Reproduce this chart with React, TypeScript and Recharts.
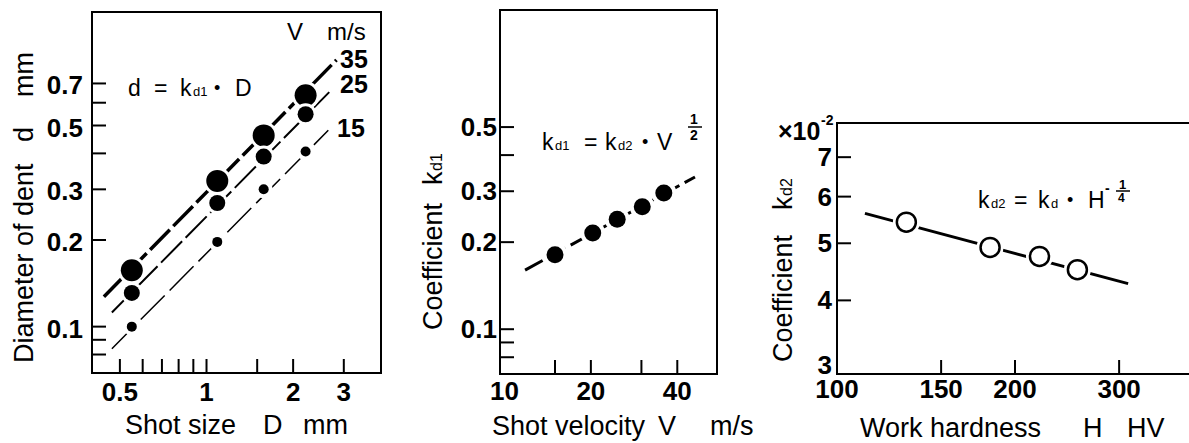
import React from 'react';
import { ComposedChart, XAxis, YAxis, Line, Scatter, ReferenceArea } from 'recharts';

const FONT = '"Liberation Sans", Arial, Helvetica, sans-serif';

// ---------- Panel 1: dent diameter vs shot size ----------
const shotSize = [0.55, 1.09, 1.58, 2.21];
const dent35 = [0.157, 0.321, 0.462, 0.637];
const dent25 = [0.131, 0.269, 0.39, 0.547];
const dent15 = [0.1, 0.197, 0.3, 0.406];
const fitShot35 = [0.44, 2.83];
const fitDent35 = [0.127, 0.845];
const fitShot25 = [0.469, 2.67];
const fitDent25 = [0.112, 0.653];
const fitShot15 = [0.469, 2.65];
const fitDent15 = [0.0838, 0.481];
const shotTicks = [0.5, 0.6, 0.7, 0.8, 0.9, 1, 1.5, 2, 3];
const shotTickLabels = ['0.5', '', '', '', '', '1', '', '2', '3'];
const dentTicks = [0.08, 0.09, 0.1, 0.2, 0.3, 0.4, 0.5, 0.6, 0.7];
const dentTickLabels = ['', '', '0.1', '0.2', '0.3', '', '0.5', '', '0.7'];

// ---------- Panel 2: kd1 vs shot velocity ----------
const velocity = [15, 20.3, 24.7, 30.2, 35.9];
const kd1 = [0.181, 0.215, 0.24, 0.265, 0.296];
const fitVelocity = [11.8, 46.1];
const fitKd1 = [0.16, 0.336];
const velocityTicks = [10, 15, 20, 30, 40];
const velocityTickLabels = ['10', '', '20', '', '40'];
const kd1Ticks = [0.08, 0.09, 0.1, 0.2, 0.3, 0.4, 0.5];
const kd1TickLabels = ['', '', '0.1', '0.2', '0.3', '', '0.5'];

// ---------- Panel 3: kd2 vs work hardness (x10^-2) ----------
const hardness = [131, 181.5, 220, 255];
const kd2 = [5.43, 4.92, 4.75, 4.51];
const fitHardness = [111.5, 310.7];
const fitKd2 = [5.62, 4.27];
const hardnessTicks = [100, 150, 200, 300];
const hardnessTickLabels = ['100', '150', '200', '300'];
const kd2Ticks = [3, 4, 5, 6, 7];
const kd2TickLabels = ['3', '4', '5', '6', '7'];

type Pt = { x: number; y: number };
const zip = (xs: number[], ys: number[]): Pt[] => xs.map((x, i) => ({ x, y: ys[i] }));

const TICK_LEN = 14;
const TICK_FONT = 26;

const makeXTick = (ticks: number[], labels: string[], noMark: number[], labelDy: number) => (props: any) => {
  const { x, y, payload } = props;
  const i = ticks.indexOf(payload.value);
  const mark = noMark.indexOf(payload.value) < 0;
  return (
    <g>
      {mark && <line x1={x} x2={x} y1={y} y2={y - TICK_LEN} stroke="#000" strokeWidth={2} />}
      <text x={x} y={y + labelDy} textAnchor="middle" fontSize={TICK_FONT} fontWeight="bold" fontFamily={FONT} fill="#000">
        {labels[i]}
      </text>
    </g>
  );
};

const makeYTick = (ticks: number[], labels: string[], domainMin: number, gap: number, off: number) => (props: any) => {
  const { x, y, payload } = props;
  const i = ticks.indexOf(payload.value);
  const atMin = payload.value === domainMin;
  return (
    <g>
      {!atMin && <line x1={x} x2={x + TICK_LEN} y1={y} y2={y} stroke="#000" strokeWidth={2} />}
      <text x={x - gap} y={y + 9 + off + (atMin ? -9 : 0)} textAnchor="end" fontSize={TICK_FONT} fontWeight="bold" fontFamily={FONT} fill="#000">
        {labels[i]}
      </text>
    </g>
  );
};

const filledDot = (r: number, halo: number) => (p: any) => (
  <g>
    <circle cx={p.cx} cy={p.cy} r={r + halo} fill="#fff" />
    <circle cx={p.cx} cy={p.cy} r={r} fill="#000" />
  </g>
);

const hollowDot = (r: number, halo: number) => (p: any) => (
  <g>
    <circle cx={p.cx} cy={p.cy} r={r + halo} fill="#fff" />
    <circle cx={p.cx} cy={p.cy} r={r} fill="#fff" stroke="#000" strokeWidth={2.5} />
  </g>
);

type LineSpec = { data: Pt[]; width: number; dash?: string };
type DotSpec = { data: Pt[]; shape: (p: any) => React.ReactElement };

interface PanelProps {
  left: number;
  width: number;
  top: number;
  right: number;
  yAxisWidth: number;
  xAxisHeight: number;
  xDomain: [number, number];
  yDomain: [number, number];
  xTicks: number[];
  xLabels: string[];
  xNoMark: number[];
  yTicks: number[];
  yLabels: string[];
  xLabelDy: number;
  yGap: number;
  yOff: number;
  lines: LineSpec[];
  dots: DotSpec[];
}

function Panel(p: PanelProps) {
  return (
    <div style={{ position: 'absolute', left: p.left, top: 0, width: p.width, height: 443 }}>
      <ComposedChart width={p.width} height={443} margin={{ top: p.top, right: p.right, bottom: 0, left: 0 }}>
        <XAxis
          type="number"
          dataKey="x"
          scale="log"
          domain={p.xDomain}
          allowDataOverflow
          ticks={p.xTicks}
          interval={0}
          height={p.xAxisHeight}
          axisLine={false}
          tickLine={false}
          tickSize={0}
          tickMargin={0}
          tick={makeXTick(p.xTicks, p.xLabels, p.xNoMark, p.xLabelDy)}
        />
        <YAxis
          type="number"
          dataKey="y"
          scale="log"
          domain={p.yDomain}
          allowDataOverflow
          ticks={p.yTicks}
          interval={0}
          width={p.yAxisWidth}
          axisLine={false}
          tickLine={false}
          tickSize={0}
          tickMargin={0}
          tick={makeYTick(p.yTicks, p.yLabels, p.yDomain[0], p.yGap, p.yOff)}
        />
        <ReferenceArea
          x1={p.xDomain[0]}
          x2={p.xDomain[1]}
          y1={p.yDomain[0]}
          y2={p.yDomain[1]}
          fill="none"
          fillOpacity={0}
          stroke="#000"
          strokeWidth={2}
          ifOverflow="visible"
        />
        {p.lines.map((l, i) => (
          <Line
            key={'l' + i}
            data={l.data}
            dataKey="y"
            type="linear"
            stroke="#000"
            strokeWidth={l.width}
            strokeDasharray={l.dash}
            dot={false}
            activeDot={false}
            isAnimationActive={false}
          />
        ))}
        {p.dots.map((d, i) => (
          <Scatter key={'s' + i} data={d.data} dataKey="y" shape={d.shape} isAnimationActive={false} />
        ))}
      </ComposedChart>
    </div>
  );
}

const T = (props: any) => <text fontFamily={FONT} fill="#000" {...props} />;

function Annotations() {
  return (
    <svg width={1189} height={443} style={{ position: 'absolute', left: 0, top: 0, pointerEvents: 'none' }}>
      {/* Panel 1 */}
      <T x={287} y={40} fontSize={24}>V</T>
      <T x={327} y={40} fontSize={24}>m/s</T>
      <T x={340} y={68} fontSize={25} fontWeight="bold">35</T>
      <T x={340} y={93} fontSize={25} fontWeight="bold">25</T>
      <T x={337} y={137} fontSize={25} fontWeight="bold">15</T>
      <T x={128} y={96} fontSize={23}>d</T>
      <T x={154} y={96} fontSize={23}>=</T>
      <T x={180} y={96} fontSize={23}>k</T>
      <T x={193} y={96} fontSize={13}>d1</T>
      <T x={214} y={94} fontSize={18}>•</T>
      <T x={235} y={96} fontSize={23}>D</T>
      <T x={125} y={434} fontSize={27}>Shot size</T>
      <T x={263} y={434} fontSize={27}>D</T>
      <T x={303} y={434} fontSize={27}>mm</T>
      <T transform="translate(33,363) rotate(-90)" fontSize={27}>Diameter of dent</T>
      <T transform="translate(33,142) rotate(-90)" fontSize={27}>d</T>
      <T transform="translate(33,97) rotate(-90)" fontSize={27}>mm</T>

      {/* Panel 2 */}
      <T x={542} y={150} fontSize={23}>k</T>
      <T x={555} y={150} fontSize={13}>d1</T>
      <T x={584} y={150} fontSize={23}>=</T>
      <T x={605} y={150} fontSize={23}>k</T>
      <T x={618} y={150} fontSize={13}>d2</T>
      <T x={642} y={148} fontSize={18}>•</T>
      <T x={657} y={150} fontSize={23}>V</T>
      <T x={690} y={124} fontSize={14} fontWeight="bold">1</T>
      <line x1={688} x2={702} y1={127} y2={127} stroke="#000" strokeWidth={1.5} />
      <T x={690} y={140} fontSize={14} fontWeight="bold">2</T>
      <T x={492} y={435} fontSize={27}>Shot velocity</T>
      <T x={658} y={435} fontSize={27}>V</T>
      <T x={710} y={435} fontSize={27}>m/s</T>
      <T transform="translate(442,330) rotate(-90)" fontSize={27}>Coefficient</T>
      <T transform="translate(442,185) rotate(-90)" fontSize={27}>k</T>
      <T transform="translate(442,171) rotate(-90)" fontSize={16}>d1</T>

      {/* Panel 3 */}
      <T x={778} y={140} fontSize={25} fontWeight="bold">×10</T>
      <T x={821} y={125} fontSize={14} fontWeight="bold">-2</T>
      <T x={978} y={208} fontSize={23}>k</T>
      <T x={991} y={208} fontSize={13}>d2</T>
      <T x={1014} y={208} fontSize={23}>=</T>
      <T x={1038} y={208} fontSize={23}>k</T>
      <T x={1051} y={208} fontSize={13}>d</T>
      <T x={1067} y={206} fontSize={18}>•</T>
      <T x={1088} y={208} fontSize={23}>H</T>
      <T x={1105} y={193} fontSize={14} fontWeight="bold">-</T>
      <T x={1119} y={189} fontSize={13} fontWeight="bold">1</T>
      <line x1={1116} x2={1130} y1={191} y2={191} stroke="#000" strokeWidth={1.5} />
      <T x={1118} y={202} fontSize={12} fontWeight="bold">4</T>
      <T x={860} y={437} fontSize={27}>Work hardness</T>
      <T x={1083} y={437} fontSize={27}>H</T>
      <T x={1127} y={437} fontSize={27}>HV</T>
      <T transform="translate(792,362) rotate(-90)" fontSize={27}>Coefficient</T>
      <T transform="translate(792,210) rotate(-90)" fontSize={27}>k</T>
      <T transform="translate(792,196) rotate(-90)" fontSize={16}>d2</T>
    </svg>
  );
}

export default function App() {
  return (
    <div
      style={{
        position: 'absolute',
        left: 0,
        top: 0,
        width: 1189,
        height: 443,
        overflow: 'hidden',
        background: '#fff',
        fontFamily: FONT,
      }}
    >
      <Panel
        left={0}
        width={400}
        top={12}
        right={19}
        yAxisWidth={92}
        xAxisHeight={70}
        xDomain={[0.4, 4.04]}
        yDomain={[0.069, 1.24]}
        xTicks={shotTicks}
        xLabels={shotTickLabels}
        xNoMark={[]}
        yTicks={dentTicks}
        yLabels={dentTickLabels}
        xLabelDy={28}
        yGap={9}
        yOff={2}
        lines={[
          { data: zip(fitShot35, fitDent35), width: 3.5, dash: '28 5' },
          { data: zip(fitShot25, fitDent25), width: 2, dash: '30 5' },
          { data: zip(fitShot15, fitDent15), width: 1.5, dash: '34 7' },
        ]}
        dots={[
          { data: zip(shotSize, dent35), shape: filledDot(11, 3) },
          { data: zip(shotSize, dent25), shape: filledDot(8, 3) },
          { data: zip(shotSize, dent15), shape: filledDot(5, 4) },
        ]}
      />
      <Panel
        left={400}
        width={350}
        top={10}
        right={33}
        yAxisWidth={100}
        xAxisHeight={69}
        xDomain={[9.65, 55]}
        yDomain={[0.07, 1.27]}
        xTicks={velocityTicks}
        xLabels={velocityTickLabels}
        xNoMark={[10]}
        yTicks={kd1Ticks}
        yLabels={kd1TickLabels}
        xLabelDy={26}
        yGap={3}
        yOff={0}
        lines={[{ data: zip(fitVelocity, fitKd1), width: 3, dash: '20 6' }]}
        dots={[{ data: zip(velocity, kd1), shape: filledDot(8.5, 4) }]}
      />
      <Panel
        left={750}
        width={450}
        top={123}
        right={7}
        yAxisWidth={87}
        xAxisHeight={69}
        xDomain={[100, 400]}
        yDomain={[3, 8]}
        xTicks={hardnessTicks}
        xLabels={hardnessTickLabels}
        xNoMark={[100]}
        yTicks={kd2Ticks}
        yLabels={kd2TickLabels}
        xLabelDy={24}
        yGap={5}
        yOff={0}
        lines={[{ data: zip(fitHardness, fitKd2), width: 3 }]}
        dots={[{ data: zip(hardness, kd2), shape: hollowDot(9.5, 4) }]}
      />
      <Annotations />
    </div>
  );
}
